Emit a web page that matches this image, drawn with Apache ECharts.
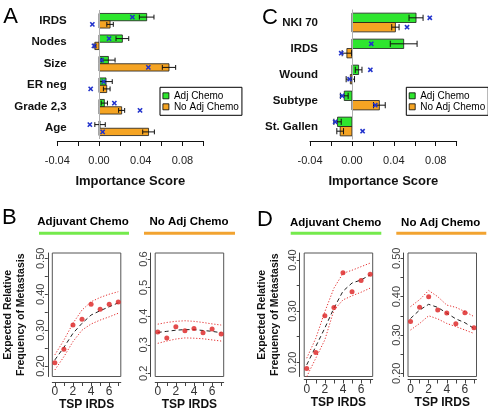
<!DOCTYPE html>
<html><head><meta charset="utf-8">
<script src="https://cdn.jsdelivr.net/npm/echarts@6/dist/echarts.min.js"></script>
<style>html,body{margin:0;padding:0;background:#fff}#c{width:488px;height:418px}</style>
</head><body><div id="c"></div>
<script>
// ---------- Panel A ----------
const catsA = ['IRDS', 'Nodes', 'Size', 'ER neg', 'Grade 2,3', 'Age'];
const adjA = [0.0457, 0.0224, 0.0090, 0.0067, 0.0051, 0.0010];
const adjErrA = [0.0070, 0.0061, 0.0064, 0.0060, 0.0030, 0.0050];
const adjPermA = [0.0320, 0.0096, 0.0024, 0.0045, 0.0147, -0.0088];
const noAdjA = [0.0106, -0.0040, 0.0671, 0.0074, 0.0217, 0.0475];
const noAdjErrA = [0.0031, 0.0010, 0.0064, 0.0032, 0.0029, 0.0056];
const noAdjPermA = [-0.0064, -0.0048, 0.0473, -0.0080, 0.0393, 0.0035];
// ---------- Panel C ----------
const catsC = ['NKI 70', 'IRDS', 'Wound', 'Subtype', 'St. Gallen'];
const adjC = [0.0612, 0.0494, 0.0064, -0.0073, -0.0137];
const adjErrC = [0.0067, 0.0128, 0.0032, 0.0037, 0.0035];
const adjPermC = [0.0743, 0.0185, 0.0176, -0.0093, -0.0160];
const noAdjC = [0.0415, -0.0048, -0.0015, 0.0262, -0.0112];
const noAdjErrC = [0.0035, 0.0045, 0.0040, 0.0056, 0.0032];
const noAdjPermC = [0.0526, -0.0102, -0.0022, 0.0223, 0.0102];
const importanceTicks = [-0.04, 0.00, 0.04, 0.08];
// ---------- Panels B and D ----------
const tsp = [0, 1, 2, 3, 4, 5, 6, 7];
const tspTickLabels = [0, 2, 4, 6];
const bAdjObs = [0.209, 0.247, 0.314, 0.330, 0.372, 0.358, 0.372, 0.378];
const bAdjFit = [0.217, 0.252, 0.291, 0.319, 0.342, 0.354, 0.365, 0.376];
const bAdjUp = [0.231, 0.272, 0.319, 0.356, 0.379, 0.391, 0.400, 0.407];
const bAdjLo = [0.189, 0.226, 0.268, 0.300, 0.317, 0.328, 0.337, 0.347];
const bNoObs = [0.345, 0.324, 0.363, 0.349, 0.357, 0.342, 0.355, 0.338];
const bNoFit = [0.343, 0.347, 0.351, 0.353, 0.353, 0.350, 0.347, 0.342];
const bNoUp = [0.372, 0.378, 0.382, 0.384, 0.382, 0.378, 0.373, 0.369];
const bNoLo = [0.305, 0.313, 0.320, 0.324, 0.323, 0.321, 0.317, 0.313];
const dAdjObs = [0.188, 0.219, 0.291, 0.307, 0.375, 0.338, 0.360, 0.372];
const dAdjFit = [0.195, 0.231, 0.267, 0.306, 0.339, 0.355, 0.361, 0.371];
const dAdjUp = [0.208, 0.247, 0.299, 0.345, 0.374, 0.380, 0.387, 0.394];
const dAdjLo = [0.172, 0.208, 0.244, 0.302, 0.322, 0.330, 0.337, 0.345];
const dNoObs = [0.335, 0.372, 0.400, 0.365, 0.357, 0.329, 0.358, 0.319];
const dNoFit = [0.343, 0.365, 0.380, 0.372, 0.357, 0.342, 0.332, 0.317];
const dNoUp = [0.374, 0.392, 0.416, 0.400, 0.378, 0.372, 0.361, 0.348];
const dNoLo = [0.313, 0.330, 0.350, 0.342, 0.330, 0.322, 0.313, 0.304];
const bLeftTicks = [0.20, 0.25, 0.30, 0.35, 0.40, 0.45, 0.50];
const bLeftLabels = [0.20, 0.30, 0.40, 0.50];
const bRightTicks = [0.2, 0.3, 0.4, 0.5, 0.6];
const dLeftTicks = [0.20, 0.25, 0.30, 0.35, 0.40];
const dLeftLabels = [0.20, 0.30, 0.40];
const dRightTicks = [0.20, 0.25, 0.30, 0.35, 0.40, 0.45, 0.50];
const dRightLabels = [0.20, 0.30, 0.40, 0.50];

const FONT = "'Liberation Sans', Arial, Helvetica, sans-serif";
const GREEN = '#2ee62e', ORANGE = '#f5a423', BLUE = '#2233cc', RED = '#dc1f1f';

function barSeries(name, color, axisIdx, vals, errs, perms, slot, frac, zeroLine) {
  const s = {
    type: 'custom', name: name, xAxisIndex: axisIdx, yAxisIndex: axisIdx,
    data: vals.map((v, i) => [i, v, errs[i], perms[i]]),
    encode: { x: 1, y: 0 },
    itemStyle: { color: color },
    clip: false,
    renderItem: function (params, api) {
      const i = api.value(0), v = api.value(1), se = api.value(2), pm = api.value(3);
      const band = api.size([0, 1])[1];
      const bh = band * frac;
      const c = api.coord([0, i]);
      const top = c[1] - bh + slot * bh;
      const yc = top + bh / 2;
      const xv = api.coord([v, i])[0];
      const xl = api.coord([v - se, i])[0], xr = api.coord([v + se, i])[0];
      const xp = api.coord([pm, i])[0];
      const cap = bh * 0.33, k = 2.1;
      const ln = (x1, y1, x2, y2, col, w) => ({ type: 'line', shape: { x1, y1, x2, y2 }, style: { stroke: col, lineWidth: w } });
      return { type: 'group', children: [
        { type: 'rect', shape: { x: Math.min(c[0], xv), y: top, width: Math.abs(xv - c[0]), height: bh },
          style: { fill: color, stroke: '#1a1a1a', lineWidth: 0.8 } },
        ln(xl, yc, xr, yc, '#111', 1),
        ln(xl, yc - cap, xl, yc + cap, '#111', 1),
        ln(xr, yc - cap, xr, yc + cap, '#111', 1),
        ln(xp - k, yc - k, xp + k, yc + k, BLUE, 1.6),
        ln(xp - k, yc + k, xp + k, yc - k, BLUE, 1.6)
      ] };
    }
  };
  if (zeroLine) {
    s.markLine = { silent: true, symbol: 'none', label: { show: false }, animation: false,
      lineStyle: { color: '#b0b0b0', type: 'solid', width: 1 }, data: [{ xAxis: 0 }] };
  }
  return s;
}

function importanceAxis(grid, offset) {
  return {
    gridIndex: grid, type: 'value', min: -0.04, max: 0.10, interval: 0.02, offset: offset,
    axisLine: { show: true, onZero: false, lineStyle: { color: '#111', width: 1 } },
    axisTick: { show: true, length: 5, lineStyle: { color: '#111' } },
    axisLabel: { fontSize: 11, color: '#222', fontFamily: FONT, margin: 14,
      formatter: v => importanceTicks.some(t => Math.abs(t - v) < 1e-9) ? v.toFixed(2) : '' },
    splitLine: { show: false },
    name: 'Importance Score', nameLocation: 'middle', nameGap: 34,
    nameTextStyle: { fontSize: 13, fontWeight: 'bold', color: '#111', fontFamily: FONT }
  };
}
function catAxis(grid, cats, offset) {
  return {
    gridIndex: grid, type: 'category', data: cats, inverse: true, offset: offset,
    axisLine: { show: false }, axisTick: { show: false }, splitLine: { show: false },
    axisLabel: { fontSize: 11.5, fontWeight: 'bold', color: '#111', fontFamily: FONT, margin: 0 }
  };
}
function tspAxis(grid, offset) {
  return {
    gridIndex: grid, type: 'value', min: -0.28, max: 7.28, offset: offset,
    axisLine: { show: true, onZero: false, lineStyle: { color: '#444' } },
    axisTick: { show: true, length: 4, customValues: tsp, lineStyle: { color: '#444' } },
    axisLabel: { customValues: tspTickLabels, fontSize: 12, color: '#333', fontFamily: FONT, margin: 4 },
    splitLine: { show: false },
    name: 'TSP IRDS', nameLocation: 'middle', nameGap: 17,
    nameTextStyle: { fontSize: 12, fontWeight: 'bold', color: '#111', fontFamily: FONT }
  };
}
function freqAxis(grid, min, max, ticks, labels, digits, withName, nameGap) {
  const a = {
    gridIndex: grid, type: 'value', min: min, max: max, offset: 4.5,
    axisLine: { show: true, onZero: false, lineStyle: { color: '#444' } },
    axisTick: { show: true, length: 3, customValues: ticks, lineStyle: { color: '#444' } },
    axisLabel: { customValues: labels, rotate: 90, fontSize: 11, color: '#444', fontFamily: FONT, margin: 1.5,
      formatter: v => v.toFixed(digits) },
    splitLine: { show: false }
  };
  if (withName) {
    Object.assign(a, {
      name: 'Expected Relative\nFrequency of Metastasis', nameLocation: 'middle', nameRotate: 90, nameGap: nameGap,
      nameTextStyle: { fontSize: 10.5, fontWeight: 'bold', color: '#111', fontFamily: FONT, lineHeight: 12.8 }
    });
  }
  return a;
}
function pairs(ys) { return tsp.map((x, i) => [x, ys[i]]); }
function curveSeries(idx, obs, fit, up, lo) {
  const ci = { color: '#e53030', width: 1, type: [1.2, 1.8] };
  return [
    { type: 'line', xAxisIndex: idx, yAxisIndex: idx, data: pairs(up), symbol: 'none', lineStyle: ci, z: 2 },
    { type: 'line', xAxisIndex: idx, yAxisIndex: idx, data: pairs(lo), symbol: 'none', lineStyle: ci, z: 2 },
    { type: 'line', xAxisIndex: idx, yAxisIndex: idx, data: pairs(fit), symbol: 'none',
      lineStyle: { color: '#222', width: 1, type: [4, 3] }, z: 3 },
    { type: 'scatter', xAxisIndex: idx, yAxisIndex: idx, data: pairs(obs), symbol: 'circle', symbolSize: 5,
      itemStyle: { color: RED }, z: 4 }
  ];
}
function legendAt(left, top) {
  return {
    left: left, top: top, orient: 'vertical', data: ['Adj Chemo', 'No Adj Chemo'], selectedMode: false,
    icon: 'rect', itemWidth: 6, itemHeight: 6, itemGap: 0, padding: [3, 3, 3, 2.5],
    borderColor: '#000', borderWidth: 1, borderRadius: 0, backgroundColor: '#fff',
    itemStyle: { borderColor: '#000', borderWidth: 0.8 },
    textStyle: { fontSize: 10, color: '#000', fontFamily: FONT, lineHeight: 11 }
  };
}
const boxGrid = (left, top, h) => ({ left: left, top: top, width: 68.5, height: h, show: true,
  borderColor: '#555', borderWidth: 1, backgroundColor: 'transparent' });

const txt = (x, y, s, font, align) => ({ type: 'text', x: x, y: y,
  style: { text: s, font: font, fill: '#000', align: align || 'center', verticalAlign: 'middle' } });
const hline = (x1, x2, y, col) => ({ type: 'line', shape: { x1: x1, y1: y, x2: x2, y2: y },
  style: { stroke: col, lineWidth: 3 } });
const HFONT = "bold 11.5px " + FONT, LFONT = "22px " + FONT;

const option = {
  animation: false,
  backgroundColor: '#fff',
  grid: [
    { left: 57.3, top: 10, width: 146, height: 129 },
    { left: 310, top: 9.5, width: 146.7, height: 130 },
    boxGrid(52.3, 253, 123.5),
    boxGrid(155.2, 253, 123.5),
    boxGrid(304.2, 253, 123.5),
    boxGrid(408, 253, 123.5)
  ],
  xAxis: [
    importanceAxis(0, 2), importanceAxis(1, 1.5),
    tspAxis(2, 5.5), tspAxis(3, 5.5), tspAxis(4, 3), tspAxis(5, 3)
  ],
  yAxis: [
    catAxis(0, catsA, -9.4), catAxis(1, catsC, -8),
    freqAxis(2, 0.1708, 0.5148, bLeftTicks, bLeftLabels, 2, true, 20.5),
    freqAxis(3, 0.189, 0.621, bRightTicks, bRightTicks, 1, false),
    freqAxis(4, 0.1722, 0.4137, dLeftTicks, dLeftLabels, 2, true, 18.5),
    freqAxis(5, 0.1917, 0.5138, dRightTicks, dRightLabels, 2, false)
  ],
  legend: [legendAt(160, 87.3), legendAt(406.3, 87.3)],
  series: [
    barSeries('Adj Chemo', GREEN, 0, adjA, adjErrA, adjPermA, 0, 0.34, true),
    barSeries('No Adj Chemo', ORANGE, 0, noAdjA, noAdjErrA, noAdjPermA, 1, 0.34, false),
    barSeries('Adj Chemo', GREEN, 1, adjC, adjErrC, adjPermC, 0, 0.36, true),
    barSeries('No Adj Chemo', ORANGE, 1, noAdjC, noAdjErrC, noAdjPermC, 1, 0.36, false),
    ...curveSeries(2, bAdjObs, bAdjFit, bAdjUp, bAdjLo),
    ...curveSeries(3, bNoObs, bNoFit, bNoUp, bNoLo),
    ...curveSeries(4, dAdjObs, dAdjFit, dAdjUp, dAdjLo),
    ...curveSeries(5, dNoObs, dNoFit, dNoUp, dNoLo)
  ],
  graphic: [
    txt(3.3, 16.7, 'A', LFONT, 'left'),
    txt(262, 17.7, 'C', LFONT, 'left'),
    txt(2, 218.3, 'B', LFONT, 'left'),
    txt(257, 220.3, 'D', LFONT, 'left'),
    txt(83, 222, 'Adjuvant Chemo', HFONT),
    txt(189, 222, 'No Adj Chemo', HFONT),
    txt(335.7, 222.5, 'Adjuvant Chemo', HFONT),
    txt(440.7, 222.5, 'No Adj Chemo', HFONT),
    hline(39, 129, 233.3, '#74ea4c'),
    hline(144, 235, 233.3, '#f2a330'),
    hline(290.7, 381.3, 233.3, '#74ea4c'),
    hline(396.3, 486.3, 233.3, '#f2a330')
  ]
};
const chart = echarts.init(document.getElementById('c'), null, { renderer: 'canvas' });
chart.setOption(option);
</script></body></html>
